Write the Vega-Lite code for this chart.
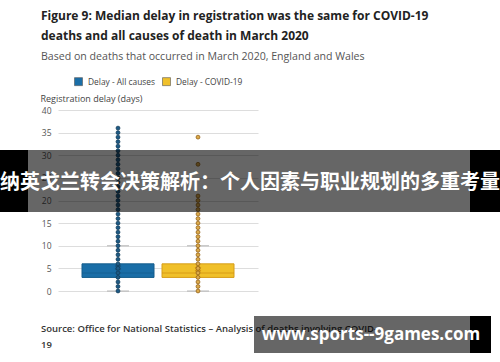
{
  "$schema": "https://vega.github.io/schema/vega-lite/v6.json",
  "width": 200,
  "height": 181,
  "autosize": "none",
  "padding": {"left": 58, "top": 110, "right": 242, "bottom": 71},
  "background": "white",
  "config": {"font": "Open Sans", "view": {"stroke": null},
    "axisY": {"title": "Registration delay (days)", "titleAngle": 0, "titleAlign": "left", "titleBaseline": "alphabetic", "titleX": -18, "titleY": -9, "titleFontSize": 9, "titleFontWeight": "normal", "titleColor": "#444444", "labelFontSize": 8.5, "labelColor": "#555555", "labelPadding": 7, "domain": false, "ticks": false, "gridColor": "#dddddd", "tickCount": 8, "labelOverlap": false}},
  "title": {
    "text": ["Figure 9: Median delay in registration was the same for COVID-19", "deaths and all causes of death in March 2020"],
    "subtitle": "Based on deaths that occurred in March 2020, England and Wales",
    "anchor": "start",
    "frame": "group",
    "dx": -17,
    "fontSize": 12,
    "fontWeight": "bold",
    "color": "#222222",
    "lineHeight": 20.5,
    "subtitleFontSize": 10.6,
    "subtitleColor": "#555555",
    "subtitlePadding": 9,
    "offset": 13
  },
  "datasets": {
    "stats": [
      {"group": "Delay - All causes", "lower": 0, "q1": 3, "median": 4, "q3": 6, "upper": 10, "mean": 5.2},
      {"group": "Delay - COVID-19", "lower": 0, "q1": 3, "median": 4, "q3": 6, "upper": 10, "mean": 4.8}
    ],
    "points": [
      {"group": "Delay - All causes", "delay": 0}, {"group": "Delay - All causes", "delay": 1}, {"group": "Delay - All causes", "delay": 2}, {"group": "Delay - All causes", "delay": 3}, {"group": "Delay - All causes", "delay": 4}, {"group": "Delay - All causes", "delay": 5}, {"group": "Delay - All causes", "delay": 6}, {"group": "Delay - All causes", "delay": 7}, {"group": "Delay - All causes", "delay": 8}, {"group": "Delay - All causes", "delay": 9},
      {"group": "Delay - All causes", "delay": 10}, {"group": "Delay - All causes", "delay": 11}, {"group": "Delay - All causes", "delay": 12}, {"group": "Delay - All causes", "delay": 13}, {"group": "Delay - All causes", "delay": 14}, {"group": "Delay - All causes", "delay": 15}, {"group": "Delay - All causes", "delay": 16}, {"group": "Delay - All causes", "delay": 17}, {"group": "Delay - All causes", "delay": 18}, {"group": "Delay - All causes", "delay": 19},
      {"group": "Delay - All causes", "delay": 20}, {"group": "Delay - All causes", "delay": 21}, {"group": "Delay - All causes", "delay": 22}, {"group": "Delay - All causes", "delay": 23}, {"group": "Delay - All causes", "delay": 24}, {"group": "Delay - All causes", "delay": 25}, {"group": "Delay - All causes", "delay": 26}, {"group": "Delay - All causes", "delay": 27}, {"group": "Delay - All causes", "delay": 28}, {"group": "Delay - All causes", "delay": 29},
      {"group": "Delay - All causes", "delay": 30}, {"group": "Delay - All causes", "delay": 31}, {"group": "Delay - All causes", "delay": 32}, {"group": "Delay - All causes", "delay": 33}, {"group": "Delay - All causes", "delay": 34}, {"group": "Delay - All causes", "delay": 35}, {"group": "Delay - All causes", "delay": 36},
      {"group": "Delay - COVID-19", "delay": 0}, {"group": "Delay - COVID-19", "delay": 1}, {"group": "Delay - COVID-19", "delay": 2}, {"group": "Delay - COVID-19", "delay": 3}, {"group": "Delay - COVID-19", "delay": 4}, {"group": "Delay - COVID-19", "delay": 5}, {"group": "Delay - COVID-19", "delay": 6}, {"group": "Delay - COVID-19", "delay": 7}, {"group": "Delay - COVID-19", "delay": 8}, {"group": "Delay - COVID-19", "delay": 9},
      {"group": "Delay - COVID-19", "delay": 10}, {"group": "Delay - COVID-19", "delay": 11}, {"group": "Delay - COVID-19", "delay": 12}, {"group": "Delay - COVID-19", "delay": 13}, {"group": "Delay - COVID-19", "delay": 14}, {"group": "Delay - COVID-19", "delay": 15}, {"group": "Delay - COVID-19", "delay": 16}, {"group": "Delay - COVID-19", "delay": 17}, {"group": "Delay - COVID-19", "delay": 18}, {"group": "Delay - COVID-19", "delay": 19},
      {"group": "Delay - COVID-19", "delay": 20}, {"group": "Delay - COVID-19", "delay": 21}, {"group": "Delay - COVID-19", "delay": 28}, {"group": "Delay - COVID-19", "delay": 34}
    ],
    "overlay": [{"label": "overlay"}]
  },
  "layer": [
    {
      "layer": [
        {
          "data": {"name": "stats"},
          "mark": {"type": "bar", "strokeWidth": 1},
          "encoding": {
            "x": {"field": "group", "type": "nominal", "axis": null, "scale": {"paddingInner": 0.1, "paddingOuter": 0.3}},
            "y": {"field": "q1", "type": "quantitative", "scale": {"domain": [0, 40]}, "title": "Registration delay (days)"},
            "y2": {"field": "q3"},
            "fill": {"field": "group", "type": "nominal", "scale": {"range": ["#1a6ea7", "#f0c02a"]},
              "legend": {"orient": "none", "legendX": 16, "legendY": -33, "direction": "horizontal", "title": null, "symbolType": "square", "symbolSize": 64, "symbolStrokeWidth": 0.6, "symbolStrokeColor": "#555555", "labelFontSize": 8.4, "labelColor": "#444444", "columnPadding": 6, "labelOffset": 5}},
            "stroke": {"condition": {"test": "datum.group == 'Delay - All causes'", "value": "#155d8c"}, "value": "#d69d1a"}
          }
        },
        {
          "data": {"name": "stats"},
          "mark": {"type": "tick", "thickness": 1, "size": 72},
          "encoding": {
            "x": {"field": "group", "type": "nominal", "axis": null, "scale": {"paddingInner": 0.1, "paddingOuter": 0.3}},
            "y": {"field": "median", "type": "quantitative", "title": "Registration delay (days)"},
            "color": {"condition": {"test": "datum.group == 'Delay - All causes'", "value": "#155d8c"}, "value": "#d08f10"}
          }
        },
        {
          "data": {"name": "stats"},
          "mark": {"type": "tick", "thickness": 1, "size": 22, "color": "#9a9a9a"},
          "encoding": {
            "x": {"field": "group", "type": "nominal", "axis": null, "scale": {"paddingInner": 0.1, "paddingOuter": 0.3}},
            "y": {"field": "upper", "type": "quantitative", "title": "Registration delay (days)"}
          }
        },
        {
          "data": {"name": "stats"},
          "mark": {"type": "tick", "thickness": 1, "size": 22, "color": "#9a9a9a"},
          "encoding": {
            "x": {"field": "group", "type": "nominal", "axis": null, "scale": {"paddingInner": 0.1, "paddingOuter": 0.3}},
            "y": {"field": "lower", "type": "quantitative", "title": "Registration delay (days)"}
          }
        },
        {
          "data": {"name": "stats"},
          "mark": {"type": "point", "shape": "cross", "angle": 45, "size": 45, "filled": true},
          "encoding": {
            "x": {"field": "group", "type": "nominal", "axis": null, "scale": {"paddingInner": 0.1, "paddingOuter": 0.3}},
            "y": {"field": "mean", "type": "quantitative", "title": "Registration delay (days)"},
            "color": {"condition": {"test": "datum.group == 'Delay - All causes'", "value": "#154a70"}, "value": "#c8850c"}
          }
        },
        {
          "data": {"name": "points"},
          "mark": {"type": "point", "shape": "circle", "size": 15, "filled": true, "strokeWidth": 0.8, "opacity": 1},
          "encoding": {
            "x": {"field": "group", "type": "nominal", "axis": null, "scale": {"paddingInner": 0.1, "paddingOuter": 0.3}},
            "y": {"field": "delay", "type": "quantitative", "title": "Registration delay (days)"},
            "fill": {"condition": {"test": "datum.group == 'Delay - All causes'", "value": "#1d5a85"}, "value": "#dcaa4a"},
            "stroke": {"condition": {"test": "datum.group == 'Delay - All causes'", "value": "#123c5a"}, "value": "#94631a"}
          }
        }
      ]
    },
    {
      "data": {"name": "overlay"},
      "layer": [
        {
          "mark": {"type": "rect", "color": "black", "opacity": 0.6, "clip": false},
          "encoding": {
            "x": {"datum": -1.5, "type": "quantitative", "scale": {"domain": [0, 10]}, "axis": null},
            "x2": {"datum": 20.6},
            "y": {"datum": 31.16, "type": "quantitative", "scale": {"domain": [0, 40]}, "axis": null},
            "y2": {"datum": 17.46}
          }
        },
        {
          "mark": {"type": "rect", "color": "black", "clip": false},
          "encoding": {
            "x": {"datum": -2.9, "type": "quantitative", "scale": {"domain": [0, 10]}, "axis": null},
            "x2": {"datum": -1.5},
            "y": {"datum": 31.16, "type": "quantitative", "scale": {"domain": [0, 40]}, "axis": null},
            "y2": {"datum": 17.46}
          }
        },
        {
          "mark": {"type": "rect", "color": "black", "clip": false},
          "encoding": {
            "x": {"datum": 20.6, "type": "quantitative", "scale": {"domain": [0, 10]}, "axis": null},
            "x2": {"datum": 22.2},
            "y": {"datum": 31.16, "type": "quantitative", "scale": {"domain": [0, 40]}, "axis": null},
            "y2": {"datum": 17.46}
          }
        },
        {
          "mark": {"type": "text", "text": "纳英戈兰转会决策解析：个人因素与职业规划的多重考量", "font": "Noto Sans CJK SC", "fontWeight": "bold", "fontSize": 20, "color": "white", "align": "center", "baseline": "middle", "clip": false},
          "encoding": {
            "x": {"datum": 9.6, "type": "quantitative", "scale": {"domain": [0, 10]}, "axis": null},
            "y": {"datum": 23.9, "type": "quantitative", "scale": {"domain": [0, 40]}, "axis": null}
          }
        },
        {
          "mark": {"type": "text", "text": ["Source: Office for National Statistics – Analysis of deaths involving COVID-", "19"], "fontSize": 9.5, "fontWeight": 600, "color": "#333333", "align": "left", "baseline": "top", "lineHeight": 16, "clip": false},
          "encoding": {
            "x": {"datum": -0.85, "type": "quantitative", "scale": {"domain": [0, 10]}, "axis": null},
            "y": {"datum": -7.2, "type": "quantitative", "scale": {"domain": [0, 40]}, "axis": null}
          }
        },
        {
          "mark": {"type": "rect", "color": "black", "opacity": 0.6, "clip": false},
          "encoding": {
            "x": {"datum": 9.8, "type": "quantitative", "scale": {"domain": [0, 10]}, "axis": null},
            "x2": {"datum": 20.6},
            "y": {"datum": -5.52, "type": "quantitative", "scale": {"domain": [0, 40]}, "axis": null},
            "y2": {"datum": -13.7}
          }
        },
        {
          "mark": {"type": "rect", "color": "black", "clip": false},
          "encoding": {
            "x": {"datum": 20.6, "type": "quantitative", "scale": {"domain": [0, 10]}, "axis": null},
            "x2": {"datum": 21.65},
            "y": {"datum": -5.52, "type": "quantitative", "scale": {"domain": [0, 40]}, "axis": null},
            "y2": {"datum": -13.7}
          }
        },
        {
          "mark": {"type": "text", "text": "www.sports--9games.com", "fontWeight": "bold", "fontSize": 17, "color": "white", "align": "center", "baseline": "middle", "clip": false},
          "encoding": {
            "x": {"datum": 15.65, "type": "quantitative", "scale": {"domain": [0, 10]}, "axis": null},
            "y": {"datum": -9.72, "type": "quantitative", "scale": {"domain": [0, 40]}, "axis": null}
          }
        }
      ]
    }
  ],
  "resolve": {"scale": {"x": "independent", "y": "independent"}}
}
